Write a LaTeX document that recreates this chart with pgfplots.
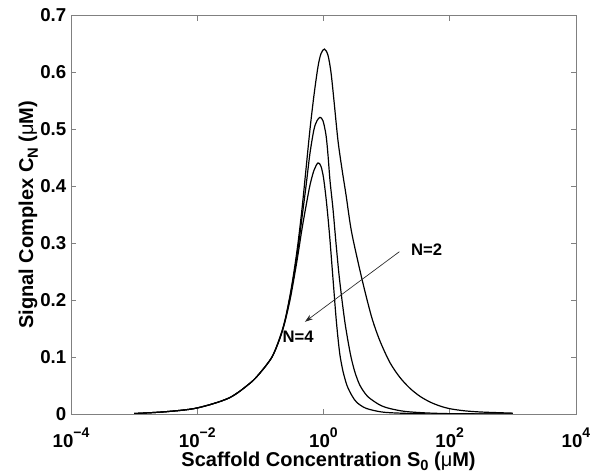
\documentclass[border=0pt]{standalone}
\usepackage{fontspec}
\setmainfont{Liberation Sans}
\usepackage{pgfplots}
\usepackage{pgfplotstable}
\pgfplotsset{compat=1.18}
\usetikzlibrary{arrows.meta}
\definecolor{framegray}{RGB}{128,128,128}
\newcommand{\tsub}[1]{\raisebox{-0.45ex}{\fontsize{11}{11}\selectfont #1}}
\newcommand{\tsup}[1]{\raisebox{0.95ex}{\fontsize{10.5}{11}\selectfont #1}}

\pgfplotstableread{
x y
0.001 0.0008
0.00317 0.004
0.00989 0.0105
0.0317 0.028
0.0684 0.054
0.0986 0.072
0.1527 0.100
0.2046 0.135
0.2453 0.165
0.2946 0.208
0.3407 0.25
0.3945 0.30
0.4563 0.36
0.5282 0.43
0.6109 0.50
0.7070 0.56
0.8180 0.61
0.9128 0.633
1.0371 0.641
1.1784 0.630
1.3147 0.600
1.4668 0.55
1.6976 0.48
1.9643 0.43
2.2733 0.385
2.7290 0.325
3.3958 0.275
4.3843 0.222
5.8696 0.168
7.8617 0.128
11.323 0.090
16.309 0.064
23.489 0.045
33.827 0.031
48.743 0.021
70.205 0.014
101.11 0.0092
174.78 0.0055
337.1 0.0033
1000 0.0015
}\curveA

\pgfplotstableread{
x y
0.001 0.0008
0.00317 0.004
0.00989 0.0105
0.0317 0.028
0.0684 0.054
0.0986 0.072
0.1527 0.100
0.2046 0.134
0.2453 0.163
0.2946 0.205
0.3407 0.245
0.3945 0.29
0.4563 0.345
0.5282 0.40
0.6109 0.458
0.7070 0.50
0.7889 0.515
0.8801 0.521
0.9819 0.515
1.0955 0.49
1.1784 0.455
1.2677 0.41
1.4145 0.36
1.5781 0.30
1.7605 0.245
1.9643 0.20
2.1913 0.16
2.4453 0.128
2.7290 0.10
3.1566 0.073
3.7887 0.05
4.8910 0.032
6.5508 0.021
8.4568 0.014
11.323 0.0095
19.565 0.0045
43.695 0.0018
101.11 0.0006
302.1 0.0002
1000 0.0
}\curveB

\pgfplotstableread{
x y
0.001 0.0008
0.00317 0.004
0.00989 0.0105
0.0317 0.028
0.0684 0.054
0.0986 0.072
0.1527 0.100
0.2046 0.133
0.2453 0.162
0.2946 0.20
0.3407 0.238
0.3945 0.28
0.4563 0.325
0.5282 0.365
0.6109 0.402
0.7070 0.428
0.8180 0.441
0.9128 0.435
1.0 0.415
1.0955 0.38
1.1784 0.345
1.2677 0.305
1.3636 0.26
1.4668 0.215
1.5781 0.17
1.6976 0.133
1.8261 0.103
2.0370 0.075
2.3577 0.05
2.8292 0.032
3.3958 0.02
4.7155 0.01
7.8617 0.004
12.633 0.002
33.827 0.0004
101.11 0.0
1000 0.0
}\curveC

\begin{document}
\begin{tikzpicture}
\begin{axis}[
  scale only axis,
  width=378.75pt, height=298.9pt,
  xmode=log, xmin=1e-4, xmax=1e4, ymin=0, ymax=0.7,
  xtick={1e-4,1e-2,1,1e2,1e4},
  xminorticks=false,
  xticklabels={10\tsup{−4},10\tsup{−2},10\tsup{0},10\tsup{2},10\tsup{4}},
  ytick={0,0.1,0.2,0.3,0.4,0.5,0.6,0.7},
  yticklabels={0,0.1,0.2,0.3,0.4,0.5,0.6,0.7},
  axis line style={framegray, line width=0.6pt},
  tick style={framegray, line width=0.6pt},
  major tick length=4pt,
  tick align=inside,
  ticklabel style={font=\bfseries\fontsize{14}{16}\selectfont, text=black},
  xticklabel style={anchor=base, yshift=-25pt, inner sep=0pt},
  label style={font=\bfseries\fontsize{15}{18}\selectfont, inner sep=0pt},
  xlabel={Scaffold Concentration S\tsub{0} ({\mdseries μ}M)},
  ylabel={Signal Complex C\tsub{N} ({\mdseries μ}M)},
  xlabel style={at={(axis description cs:0.51,-0.131)}, anchor=base},
  ylabel style={at={(axis description cs:-0.0752,0.5)}, anchor=base},
]
\addplot[black, line width=0.9pt, smooth, tension=0.5] table[x=x,y=y] {\curveA};
\addplot[black, line width=0.9pt, smooth, tension=0.5] table[x=x,y=y] {\curveB};
\addplot[black, line width=0.9pt, smooth, tension=0.5] table[x=x,y=y] {\curveC};
\draw[black!85, line width=0.5pt, -{Stealth[length=6pt,width=4pt]}] (axis cs:15.9,0.285) -- (axis cs:0.509,0.162);
\node[font=\bfseries\fontsize{12.5}{14}\selectfont] at (axis cs:43.2,0.289) {N=2};
\node[font=\bfseries\fontsize{12.5}{14}\selectfont] at (axis cs:0.398,0.136) {N=4};
\end{axis}
\path[use as bounding box] (-53.25pt,-44.25pt) rectangle (396.75pt,310.5pt);
\end{tikzpicture}
\end{document}
